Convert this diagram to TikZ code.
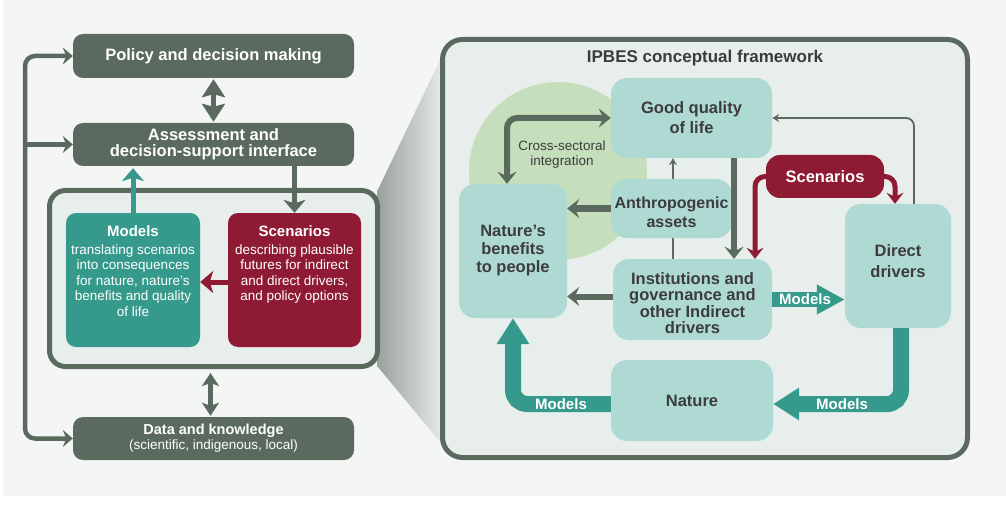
\documentclass[tikz,border=0pt]{standalone}
\usepackage{fontspec}
\setmainfont{Liberation Sans}
\usetikzlibrary{arrows.meta}
\definecolor{dk}{HTML}{5A6A5E}
\definecolor{tl}{HTML}{359A8B}
\definecolor{mr}{HTML}{8E1B33}
\definecolor{lt}{HTML}{AFDAD4}
\definecolor{fr}{HTML}{E8EEEB}
\definecolor{bgc}{HTML}{F4F6F5}
\definecolor{gr}{HTML}{C5DEBC}
\definecolor{tx}{HTML}{3C3C3C}
\definecolor{conea}{HTML}{9AA29D}
\definecolor{coneb}{HTML}{E4E8E6}
\tikzset{
  dtip/.tip={Stealth[length=12pt,width=19pt,inset=4.5pt]},
  ltip/.tip={Stealth[length=10pt,width=17pt,inset=3.5pt]},
  ptip/.tip={Stealth[length=13pt,width=22pt,inset=3.5pt]},
  qtip/.tip={Stealth[length=18pt,width=23pt,inset=3pt]},
  ktip/.tip={Stealth[length=13pt,width=17pt,inset=3pt]},
  mtip/.tip={Stealth[length=11pt,width=17pt,inset=4pt]},
  stip/.tip={Stealth[length=7pt,width=8pt,inset=2.5pt]},
  btip/.tip={Triangle[length=26pt,width=31pt]},
  ctip/.tip={Triangle[length=28pt,width=28pt]},
  lbox/.style={fill=dk, rounded corners=10pt, text=white, align=center, inner sep=0pt},
  rbox/.style={fill=lt, rounded corners=16pt, text=tx, align=center, inner sep=0pt},
  rtxt/.style={text=tx, align=center, inner sep=0pt},
  gbox/.style={draw=dk, line width=5pt, fill=fr, inner sep=0pt},
  darr/.style={draw=dk, line width=6pt, -{dtip}},
  larr/.style={draw=dk, line width=4.5pt},
  marr/.style={draw=mr, line width=5pt, rounded corners=10pt, -{mtip}},
  band/.style={draw=tl, line width=16pt, rounded corners=14pt, -{btip}},
  mlbl/.style={text=white, font=\fontsize{15}{17}\selectfont\bfseries, inner sep=0pt},
}
\begin{document}
\begin{tikzpicture}[x=1pt,y=-1pt]
\useasboundingbox (0,0) rectangle (1006,505);
\fill[bgc] (3,0) rectangle (1006,496);
% zoom cone
\shade[left color=conea, right color=coneb] (377.5,190.5) -- (441,58) -- (441,443) -- (377.5,366.5) -- cycle;

% ---------------- left panel
\node[lbox, minimum width=281pt, minimum height=44pt, font=\fontsize{16.5}{18}\selectfont\bfseries] (policy) at (213.5,56) {Policy and decision making};
\node[lbox, minimum width=281pt, minimum height=43pt, font=\fontsize{16.5}{16}\selectfont\bfseries] (assess) at (213.5,144.5) {Assessment and\\decision-support interface};
\node[gbox, rounded corners=16pt, minimum width=328pt, minimum height=176pt] (grp) at (213.5,278.5) {};
\node[fill=tl, rounded corners=10pt, minimum width=134pt, minimum height=134pt, inner sep=0pt] (models) at (133,280) {};
\node[fill=mr, rounded corners=10pt, minimum width=133pt, minimum height=134pt, inner sep=0pt] (scen) at (294.5,280) {};
\node[anchor=north, text=white, align=center, inner sep=0pt, font=\fontsize{13.5}{15.5}\selectfont] (modt) at (133,225)
  {{\fontsize{15}{15.5}\selectfont\bfseries Models}\\[2.5pt]translating scenarios\\into consequences\\for nature, nature’s\\benefits and quality\\of life};
\node[anchor=north, text=white, align=center, inner sep=0pt, font=\fontsize{13.5}{15.5}\selectfont] (scent) at (294.5,225)
  {{\fontsize{15}{15.5}\selectfont\bfseries Scenarios}\\[2.5pt]describing plausible\\futures for indirect\\and direct drivers,\\and policy options};
\node[lbox, minimum width=281pt, minimum height=43pt, font=\fontsize{13.5}{15}\selectfont] (data) at (213.5,438.5)
  {{\fontsize{14.5}{15}\selectfont\bfseries Data and knowledge}\\(scientific, indigenous, local)};

\coordinate (lp) at (25,250);
\draw[larr, rounded corners=10pt, {ltip}-{ltip}] (policy.west) -| (lp) |- (data.west);
\draw[larr, -{ltip}] (lp |- assess.west) -- (assess.west);
\draw[dk, line width=5pt, {qtip}-{qtip}] ([yshift=-1pt]policy.south) -- ([yshift=1pt]assess.north);
\draw[tl, line width=5pt, -{ptip}] (models.north) -- ([yshift=-2pt]models.north |- assess.south);
\draw[dk, line width=5pt, -{ptip}] (scen.north |- assess.south) -- (scen.north);
\draw[mr, line width=5pt, -{ptip}] ([yshift=-2pt]scen.west) -- ([yshift=-2pt]models.east);
\draw[dk, line width=5pt, {ktip}-{ktip}] ([xshift=-3pt,yshift=-4pt]grp.south) -- ([xshift=-3pt,yshift=1pt]data.north);

% ---------------- right panel
\node[gbox, rounded corners=20pt, minimum width=525pt, minimum height=418pt] (frame) at (705,248.5) {};
\node[text=tx, font=\fontsize{17}{19}\selectfont\bfseries, inner sep=0pt] (title) at (705,58) {IPBES conceptual framework};
\fill[gr] (558,171) circle[radius=89pt];

\node[rbox, minimum width=161pt, minimum height=80pt, font=\fontsize{16.5}{20}\selectfont\bfseries] (gql) at (691.5,118) {Good quality\\of life};
\node[rbox, minimum width=108pt, minimum height=134pt, font=\fontsize{16.5}{18}\selectfont\bfseries] (nbp) at (513,251) {Nature’s\\benefits\\to people};
\node[rbox, minimum width=159pt, minimum height=81pt] (inst) at (692.5,299.5) {};
\node[rtxt, font=\fontsize{16.5}{16.5}\selectfont\bfseries] (instt) at (692.5,303) {Institutions and\\governance and\\other Indirect\\drivers};
\node[rbox, minimum width=106pt, minimum height=124pt] (dd) at (898,266) {};
\node[rtxt, font=\fontsize{16.5}{21}\selectfont\bfseries] (ddt) at (898,261) {Direct\\drivers};
\node[rbox, minimum width=162pt, minimum height=81pt, font=\fontsize{16.5}{20}\selectfont\bfseries] (nat) at (692,400.5) {Nature};
\node[fill=mr, rounded corners=14pt, minimum width=118pt, minimum height=43pt, inner sep=0pt, text=white, font=\fontsize{16.5}{18}\selectfont\bfseries] (scen2) at (825,176.5) {Scenarios};

\draw[dk, line width=1.8pt, -{stip}] ([xshift=-19.5pt]inst.north) -- ([xshift=-18.5pt]gql.south);
\draw[dk, line width=1.8pt, rounded corners=8pt, -{stip}] ([xshift=16pt]dd.north) |- (gql.east);
\node[rbox, minimum width=121pt, minimum height=59pt] (anth) at (671.5,208.5) {};
\node[rtxt, font=\fontsize{16}{19}\selectfont\bfseries] (antht) at (671.5,212) {Anthropogenic\\assets};

\node[text=tx, align=center, inner sep=0pt, font=\fontsize{13.5}{15}\selectfont] (cs) at (562,155) {Cross-sectoral\\integration};

\draw[darr, {dtip}-{dtip}, rounded corners=10pt] (gql.west) -| ([xshift=-6pt]nbp.north);
\draw[darr] (anth.west) -- (anth.west -| nbp.east);
\draw[darr] ([yshift=3pt]inst.west) -- ([yshift=3pt]inst.west -| nbp.east);
\draw[darr] ([xshift=42.5pt]gql.south) -- ([xshift=41.5pt]inst.north);

\draw[marr] (scen2.west) -| ([xshift=62.5pt]inst.north);
\draw[marr] (scen2.east) -| ([xshift=-3pt]dd.north);

\draw[tl, line width=15pt, -{ctip}] (inst.east) -- (inst.east -| dd.west);
\node[mlbl] (m1) at (805,299.5) {Models};
\draw[band] ([xshift=3pt]dd.south) |- ([yshift=-3.5pt]nat.east);
\node[mlbl] (m2) at (842,404) {Models};
\draw[band] ([yshift=-3.5pt]nat.west) -| (nbp.south);
\node[mlbl] (m3) at (561,404) {Models};
\end{tikzpicture}
\end{document}
